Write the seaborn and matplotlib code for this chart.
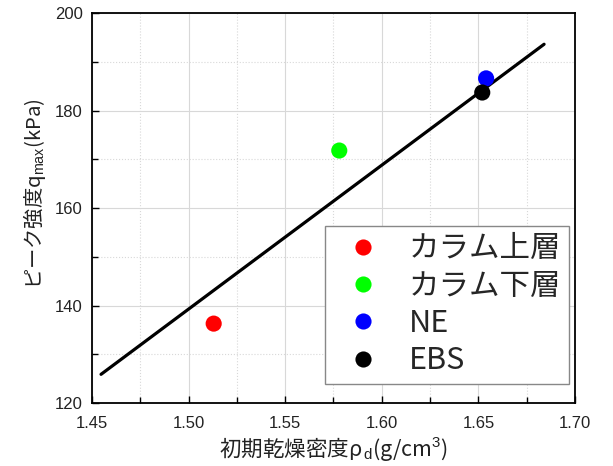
import matplotlib
matplotlib.use("Agg")
import matplotlib.pyplot as plt
from matplotlib.ticker import MultipleLocator, FixedFormatter
import seaborn as sns
import pandas as pd

# Measured samples
labels = ["カラム上層", "カラム下層", "NE", "EBS"]
density = [1.513, 1.578, 1.654, 1.652]
peak_strength = [136.3, 171.8, 186.6, 183.7]
colors = ["#ff0000", "#00ff00", "#0000ff", "#000000"]

# Trend line end points
fit_density = [1.4547, 1.684]
fit_strength = [125.9, 193.6]

x_ticks = [1.45, 1.50, 1.55, 1.60, 1.65, 1.70]
y_ticks = [120, 140, 160, 180, 200]
x_tick_labels = ["1.45", "1.50", "1.55", "1.60", "1.65", "1.70"]
y_tick_labels = ["120", "140", "160", "180", "200"]

sns.set_theme(style="white")
plt.rcParams["font.family"] = ["Noto Sans CJK JP", "DejaVu Sans"]
plt.rcParams["mathtext.fontset"] = "custom"
plt.rcParams["mathtext.rm"] = "Liberation Sans"
plt.rcParams["mathtext.it"] = "Liberation Sans"

df = pd.DataFrame({"label": labels, "density": density, "strength": peak_strength})
fit_df = pd.DataFrame({"density": fit_density, "strength": fit_strength})

fig = plt.figure(figsize=(6.13, 4.66), dpi=100)
ax = fig.add_axes([0.150, 0.135, 0.788, 0.837])

ax.grid(True, which="major", color="#d8d8d8", linewidth=0.8, linestyle="-")
ax.grid(True, which="minor", color="#d8d8d8", linewidth=0.8, linestyle=":")
ax.set_axisbelow(True)

sns.lineplot(data=fit_df, x="density", y="strength", color="black",
             linewidth=2.3, ax=ax, zorder=2)
sns.scatterplot(data=df, x="density", y="strength", hue="label",
                palette=dict(zip(labels, colors)), s=135, edgecolor="none",
                ax=ax, zorder=3, legend=True)

ax.set_xlim(1.45, 1.70)
ax.set_ylim(120, 200)
ax.set_xticks(x_ticks)
ax.set_yticks(y_ticks)
ax.xaxis.set_major_formatter(FixedFormatter(x_tick_labels))
ax.yaxis.set_major_formatter(FixedFormatter(y_tick_labels))
ax.xaxis.set_minor_locator(MultipleLocator(0.025))
ax.yaxis.set_minor_locator(MultipleLocator(10))
ax.tick_params(which="both", direction="in", bottom=True, left=True,
               top=False, right=False, color="black", labelcolor="#222222",
               labelsize=12, labelfontfamily="Liberation Sans")
ax.tick_params(axis="x", which="major", pad=9.0)
ax.tick_params(axis="y", which="major", pad=6.5)
ax.tick_params(which="major", length=5, width=1)
ax.tick_params(which="minor", length=4, width=1)

for sp in ax.spines.values():
    sp.set_color("black")
    sp.set_linewidth(1.3)

ax.set_xlabel("初期乾燥密度ρ$_{\\,\\mathrm{d}}$(g/cm$^3$)", fontsize=15.5,
              color="#222222", va="center")
ax.set_ylabel("ピーク強度q$_{\\mathrm{max}}$(kPa)", fontsize=14.6,
              color="#222222", va="center", ha="center")
ax.xaxis.set_label_coords(0.5, -0.117)
ax.yaxis.set_label_coords(-0.118, 0.536)

leg = ax.legend(loc="lower right", bbox_to_anchor=(0.9876, 0.0487), fontsize=22,
                frameon=True, fancybox=False, edgecolor="#888888",
                framealpha=1, markerscale=1.0, handletextpad=0.52,
                labelspacing=0.21, borderpad=0.25, handlelength=1.96,
                borderaxespad=0)
leg.get_frame().set_linewidth(1.0)

fig.savefig("out.png", dpi=100)
